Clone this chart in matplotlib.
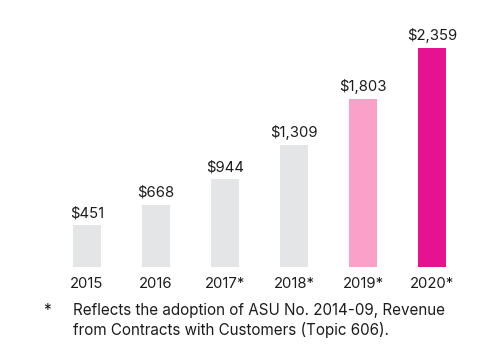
import matplotlib
matplotlib.use("Agg")
import matplotlib.pyplot as plt

years = ["2015", "2016", "2017*", "2018*", "2019*", "2020*"]
revenue = [451, 668, 944, 1309, 1803, 2359]
labels = ["$451", "$668", "$944", "$1,309", "$1,803", "$2,359"]
colors = ["#E4E5E7", "#E4E5E7", "#E4E5E7", "#E4E5E7", "#FBA1C9", "#E5138F"]
footnote = "Reflects the adoption of ASU No. 2014-09, Revenue\nfrom Contracts with Customers (Topic 606)."

plt.rcParams['font.family'] = ['Inter', 'DejaVu Sans']
txt = "#1c1c1c"

fig = plt.figure(figsize=(4.92, 3.55), dpi=100)
ax = fig.add_axes([0, 0.247, 1, 0.753])

x = list(range(len(years)))
ax.bar(x, revenue, width=0.41, color=colors)
for xi, v, lab in zip(x, revenue, labels):
    ax.text(xi, v + 55, lab, ha="center", va="bottom", fontsize=10.7, color=txt)
    ax.text(xi, -105, years[xi], ha="center", va="top", fontsize=10.7, color=txt,
            clip_on=False)

ax.set_xlim(-1.26, 5.865)
ax.set_ylim(0, 2871)
ax.axis("off")

fig.text(47 / 492, 1 - 310 / 355, "*", ha="center", va="center", fontsize=11, color=txt)
fig.text(73 / 492, 1 - 320.5 / 355, footnote, ha="left", va="center", fontsize=10.95,
         color=txt, linespacing=1.38)

fig.savefig("out.png", dpi=100)
